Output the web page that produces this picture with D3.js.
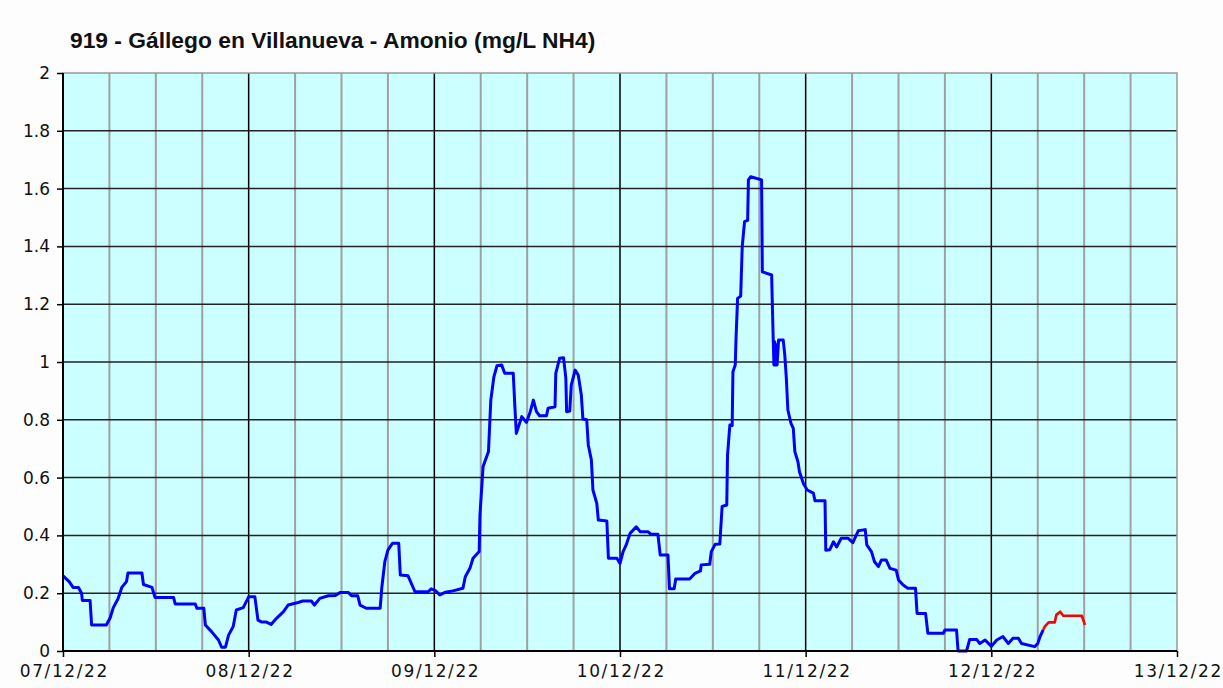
<!DOCTYPE html>
<html>
<head>
<meta charset="utf-8">
<script src="https://cdn.jsdelivr.net/npm/d3@7"></script>
<style>
  body { margin: 0; background: #fdfdfd; }
  svg { display: block; }
</style>
</head>
<body>
<svg id="chart" width="1223" height="688"></svg>
<script>
// hours after 07/12/22 00:00 and ammonium (mg/L NH4)
const validated = [
  [0,0.26],[0.8,0.24],[1.3,0.22],[2.0,0.22],[2.4,0.2],[2.5,0.175],[3.5,0.175],[3.7,0.09],[5.6,0.09],
  [6.1,0.115],[6.5,0.15],[7.1,0.18],[7.6,0.22],[8.2,0.24],[8.4,0.27],[10.2,0.27],[10.4,0.23],[11.5,0.22],
  [11.9,0.185],[14.3,0.185],[14.5,0.163],[17.1,0.163],[17.3,0.148],[18.2,0.148],[18.4,0.09],[19.2,0.067],
  [20.1,0.038],[20.5,0.013],[21.0,0.013],[21.4,0.055],[22.0,0.085],[22.4,0.142],[23.3,0.15],[23.9,0.182],
  [24.0,0.188],[24.8,0.188],[25.2,0.107],[25.7,0.1],[26.3,0.1],[26.9,0.092],[27.6,0.113],[28.5,0.136],
  [29.1,0.159],[30.4,0.168],[31.0,0.173],[32.1,0.173],[32.5,0.159],[33.2,0.182],[34.3,0.191],[35.2,0.192],
  [35.8,0.202],[36.9,0.202],[37.3,0.191],[38.1,0.191],[38.4,0.159],[39.2,0.148],[41.0,0.148],[41.2,0.217],
  [41.6,0.309],[42.0,0.349],[42.6,0.373],[43.4,0.373],[43.6,0.263],[44.6,0.26],[45.5,0.205],[47.2,0.205],
  [47.6,0.215],[48.1,0.21],[48.7,0.194],[49.4,0.203],[50.4,0.208],[51.7,0.217],[52.0,0.257],[52.6,0.286],
  [53.0,0.321],[53.8,0.344],[53.9,0.471],[54.3,0.638],[55.0,0.69],[55.3,0.868],[55.7,0.949],[56.1,0.987],
  [56.7,0.99],[57.1,0.961],[58.2,0.961],[58.4,0.851],[58.6,0.753],[59.3,0.811],[59.9,0.791],[60.4,0.828],
  [60.8,0.868],[61.2,0.828],[61.6,0.814],[62.5,0.814],[62.7,0.84],[63.6,0.845],[63.7,0.961],[64.2,1.013],
  [64.7,1.015],[65.0,0.944],[65.1,0.828],[65.5,0.83],[65.7,0.92],[66.2,0.972],[66.6,0.955],[67.0,0.886],
  [67.2,0.803],[67.7,0.8],[67.9,0.713],[68.3,0.661],[68.5,0.557],[69.0,0.511],[69.2,0.453],[70.3,0.45],
  [70.5,0.321],[71.6,0.321],[72.0,0.303],[72.4,0.344],[72.8,0.367],[73.3,0.407],[74.1,0.43],[74.6,0.413],
  [75.6,0.413],[76.0,0.404],[76.9,0.404],[77.2,0.332],[78.2,0.332],[78.4,0.215],[79.0,0.215],[79.2,0.249],
  [81.0,0.249],[81.7,0.269],[82.4,0.277],[82.5,0.298],[83.6,0.3],[83.8,0.344],[84.3,0.369],[84.9,0.37],
  [85.0,0.413],[85.2,0.5],[85.8,0.505],[85.9,0.678],[86.2,0.782],[86.5,0.78],[86.6,0.966],[86.9,0.99],
  [87.0,1.082],[87.2,1.22],[87.6,1.228],[87.8,1.399],[88.1,1.486],[88.5,1.49],[88.6,1.63],[88.9,1.641],
  [90.3,1.63],[90.4,1.312],[91.6,1.301],[91.8,1.082],[91.9,0.99],[92.0,1.07],[92.1,0.99],[92.2,1.06],
  [92.3,0.99],[92.5,1.076],[93.1,1.076],[93.3,1.024],[93.5,0.944],[93.7,0.834],[94.1,0.788],[94.4,0.77],
  [94.6,0.69],[95.0,0.655],[95.2,0.62],[95.7,0.58],[96.2,0.557],[97.0,0.546],[97.2,0.52],[98.5,0.52],
  [98.6,0.349],[99.1,0.35],[99.6,0.378],[100.0,0.36],[100.6,0.39],[101.5,0.39],[102.1,0.375],[102.8,0.416],
  [103.7,0.42],[103.9,0.367],[104.5,0.344],[104.9,0.309],[105.4,0.292],[105.8,0.315],[106.4,0.315],
  [106.9,0.286],[107.7,0.28],[108.0,0.246],[108.6,0.228],[109.2,0.217],[110.2,0.217],[110.4,0.13],
  [111.5,0.13],[111.8,0.061],[113.8,0.061],[114.0,0.073],[115.5,0.073],[115.7,0.0],[116.8,0.0],[117.2,0.04],
  [118.1,0.04],[118.5,0.026],[119.2,0.038],[120.0,0.016],[120.7,0.038],[121.5,0.05],[122.2,0.026],
  [122.8,0.044],[123.5,0.044],[123.9,0.026],[125.6,0.015],[126.0,0.026],[126.3,0.05],[126.7,0.073]
];
// last values, drawn in red
const provisional = [
  [126.7,0.073],[126.9,0.084],[127.4,0.099],[128.2,0.099],[128.4,0.125],[128.9,0.136],[129.3,0.122],
  [131.7,0.122],[132.1,0.09]
];
const yTicks = [0, 0.2, 0.4, 0.6, 0.8, 1, 1.2, 1.4, 1.6, 1.8, 2];
const yLabels = ["0", "0.2", "0.4", "0.6", "0.8", "1", "1.2", "1.4", "1.6", "1.8", "2"];
const title = "919 - Gállego en Villanueva - Amonio (mg/L NH4)";

const start = new Date(2022, 11, 7);
const end = new Date(2022, 11, 13);
const toDate = h => new Date(start.getTime() + h * 3600e3);

const svg = d3.select("#chart");
const plot = {left: 63, right: 1177, top: 73, bottom: 651};

const x = d3.scaleTime().domain([start, end]).range([plot.left, plot.right]);
const y = d3.scaleLinear().domain([0, 2]).range([plot.bottom, plot.top]);

svg.append("rect")
    .attr("x", plot.left).attr("y", plot.top)
    .attr("width", plot.right - plot.left).attr("height", plot.bottom - plot.top)
    .attr("fill", "#ccffff");

// 6-hour gray lines
svg.append("g").selectAll("line")
    .data(d3.timeHour.every(6).range(start, end).filter(d => d.getHours() != 0))
    .join("line")
    .attr("x1", d => x(d)).attr("x2", d => x(d))
    .attr("y1", plot.top).attr("y2", plot.bottom)
    .attr("stroke", "#a0a0a0").attr("stroke-width", 2);

// day lines
svg.append("g").selectAll("line")
    .data(d3.timeDay.range(d3.timeDay.offset(start, 1), end))
    .join("line")
    .attr("x1", d => x(d)).attr("x2", d => x(d))
    .attr("y1", plot.top).attr("y2", plot.bottom)
    .attr("stroke", "#000").attr("stroke-width", 1.5);

svg.append("g").selectAll("line")
    .data(yTicks.slice(1, -1))
    .join("line")
    .attr("x1", plot.left).attr("x2", plot.right)
    .attr("y1", d => y(d)).attr("y2", d => y(d))
    .attr("stroke", "#222").attr("stroke-width", 1.5);

// border
svg.append("rect")
    .attr("x", plot.left).attr("y", plot.top)
    .attr("width", plot.right - plot.left).attr("height", plot.bottom - plot.top)
    .attr("fill", "none").attr("stroke", "#999").attr("stroke-width", 1.5);

const line = d3.line().x(d => x(toDate(d[0]))).y(d => y(d[1]));

svg.append("path").datum(validated)
    .attr("d", line).attr("fill", "none")
    .attr("stroke", "#0000ff").attr("stroke-width", 3).attr("stroke-linejoin", "round");
svg.append("path").datum(provisional)
    .attr("d", line).attr("fill", "none")
    .attr("stroke", "#ff0000").attr("stroke-width", 2.6).attr("stroke-linejoin", "round");

const yAxis = svg.append("g")
    .attr("transform", `translate(${plot.left},0)`)
    .call(d3.axisLeft(y).tickValues(yTicks).tickFormat((d, i) => yLabels[i]).tickSize(6).tickPadding(7));
const xAxis = svg.append("g")
    .attr("transform", `translate(0,${plot.bottom})`)
    .call(d3.axisBottom(x).ticks(d3.timeDay.every(1)).tickFormat(d3.timeFormat("%d/%m/%y")).tickSize(6).tickPadding(8));

[yAxis, xAxis].forEach(g => {
    g.select(".domain").attr("stroke", "#000").attr("stroke-width", 2);
    g.selectAll(".tick line").attr("stroke", "#000").attr("stroke-width", 1.5);
    g.selectAll("text")
        .attr("fill", "#111")
        .style("font-family", "'DejaVu Sans', Verdana, sans-serif")
        .style("font-size", "17px");
});
xAxis.selectAll("text").style("letter-spacing", "1.6px").attr("dx", "0.8px");
yAxis.select(".domain").attr("d", `M0,${plot.top}V${plot.bottom}`);
xAxis.select(".domain").attr("d", `M${plot.left},0H${plot.right}`);

svg.append("text")
    .attr("x", 70).attr("y", 48)
    .attr("fill", "#111")
    .style("font-family", "'Liberation Sans', Arial, sans-serif")
    .style("font-weight", "bold")
    .style("font-size", "22.8px")
    .text(title);
</script>
</body>
</html>
